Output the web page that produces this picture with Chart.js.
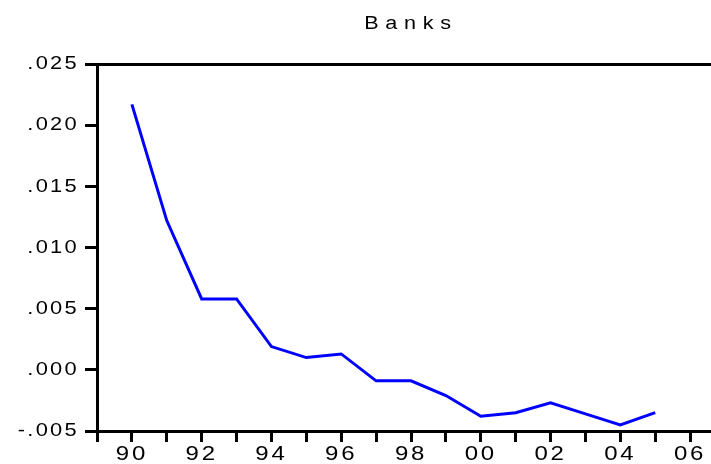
<!DOCTYPE html>
<html>
<head>
<meta charset="utf-8">
<title>Banks</title>
<script src="https://cdn.jsdelivr.net/npm/chart.js@4"></script>
<style>
  html, body { margin: 0; padding: 0; background: #ffffff; overflow: hidden; }
  canvas { display: block; }
</style>
</head>
<body>
<canvas id="chart" width="725" height="464"></canvas>
<script>
// Annual series, 1990-2005
const years = [1990, 1991, 1992, 1993, 1994, 1995, 1996, 1997,
               1998, 1999, 2000, 2001, 2002, 2003, 2004, 2005];
const banks = [0.0217, 0.0122, 0.0058, 0.0058, 0.0019, 0.0010, 0.0013, -0.0009,
               -0.0009, -0.0021, -0.0038, -0.0035, -0.0027, -0.0036, -0.0045, -0.0035];

// Axis ranges and tick settings
const xRange = [1989, 2007];
const yRange = [-0.005, 0.025];
const yStep = 0.005;

const FONT = "'Liberation Sans', Arial, sans-serif";
const TITLE_SIZE = 18;
const YTICK_SIZE = 19;
const XTICK_SIZE = 20;

// Wide, spaced-out lettering: letter spacing and horizontal stretch per font size
const textStyleBySize = {
  '18': { spacing: '5.6px', stretch: 1.2 },
  '19': { spacing: '2px', stretch: 1.15 },
  '20': { spacing: '2.3px', stretch: 1.2 }
};

const canvas = document.getElementById('chart');
const ctx = canvas.getContext('2d');
const baseFillText = ctx.fillText;
ctx.fillText = function (text, x, y) {
  const m = /(\d+(?:\.\d+)?)px/.exec(this.font);
  const st = (m && textStyleBySize[m[1]]) || { spacing: '0px', stretch: 1 };
  this.save();
  this.letterSpacing = st.spacing;
  this.translate(x, y);
  this.scale(st.stretch, 1);
  baseFillText.call(this, text, 0, 0);
  this.restore();
};

const points = years.map((yr, i) => ({ x: yr, y: banks[i] }));

function fmtY(v) {
  const s = Number(v).toFixed(3);
  return s.replace(/^(-?)0\./, '$1.');
}

new Chart(ctx, {
  type: 'line',
  data: {
    datasets: [{
      label: 'Banks',
      data: points,
      borderColor: '#0000ff',
      borderWidth: 3,
      pointRadius: 0,
      tension: 0,
      fill: false
    }]
  },
  options: {
    responsive: false,
    animation: false,
    layout: { padding: 0 },
    plugins: {
      legend: { display: false },
      tooltip: { enabled: false },
      title: {
        display: true,
        text: 'Banks',
        fullSize: false,
        color: '#000000',
        font: { family: FONT, size: TITLE_SIZE, weight: 'normal' },
        padding: { top: 13, bottom: 29.4 }
      }
    },
    scales: {
      x: {
        type: 'linear',
        position: 'bottom',
        min: xRange[0],
        max: xRange[1],
        border: { display: true, color: '#000000', width: 3 },
        grid: {
          drawOnChartArea: false,
          drawTicks: true,
          tickLength: 11,
          tickWidth: 3,
          tickColor: '#000000'
        },
        ticks: {
          stepSize: 1,
          autoSkip: false,
          maxRotation: 0,
          padding: 0,
          color: '#000000',
          font: { family: FONT, size: XTICK_SIZE },
          callback: v => (v % 2 === 0 ? String(v % 100).padStart(2, '0') : '')
        },
        afterFit: s => { s.height = 33; }
      },
      x2: {
        type: 'linear',
        position: 'top',
        min: xRange[0],
        max: xRange[1],
        border: { display: true, color: '#000000', width: 3 },
        grid: { display: false, drawTicks: false },
        ticks: { display: false },
        afterFit: s => { s.height = 0; }
      },
      y: {
        type: 'linear',
        position: 'left',
        min: yRange[0],
        max: yRange[1],
        border: { display: true, color: '#000000', width: 3 },
        grid: {
          drawOnChartArea: false,
          drawTicks: true,
          tickLength: 12,
          tickWidth: 3,
          tickColor: '#000000'
        },
        ticks: {
          stepSize: yStep,
          padding: 6,
          color: '#000000',
          font: { family: FONT, size: YTICK_SIZE },
          callback: v => fmtY(v)
        },
        afterFit: s => { s.width = 97; }
      }
    }
  }
});
</script>
</body>
</html>
